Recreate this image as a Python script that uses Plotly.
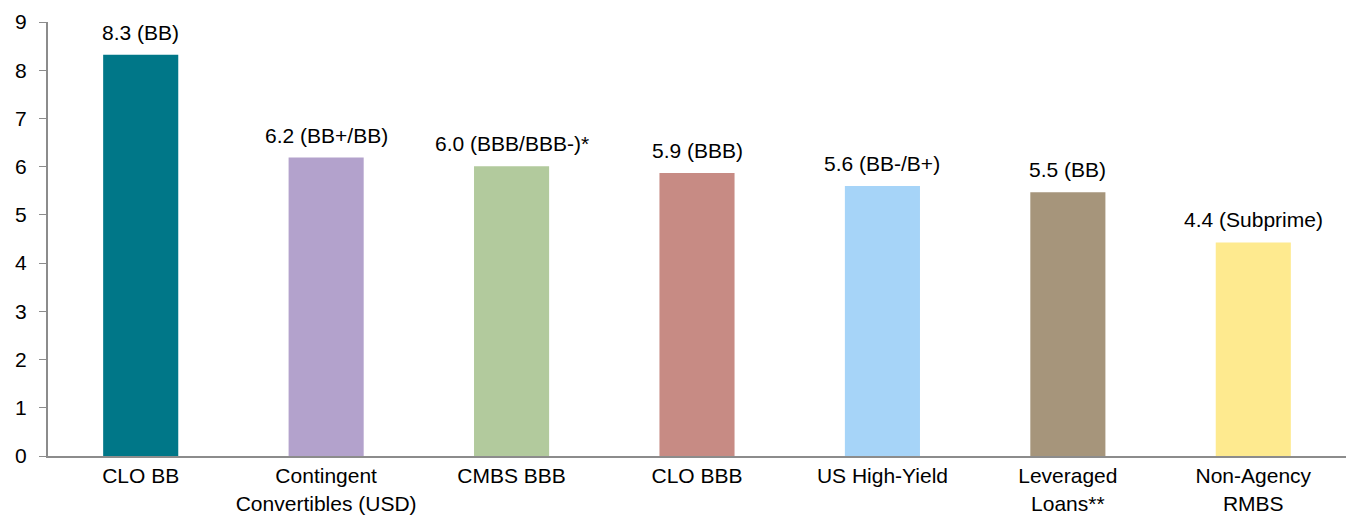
import plotly.graph_objects as go

categories = ["CLO BB", "Contingent<br>Convertibles (USD)", "CMBS BBB", "CLO BBB",
              "US High-Yield", "Leveraged<br>Loans**", "Non-Agency<br>RMBS"]
values = [8.32, 6.19, 6.01, 5.87, 5.60, 5.47, 4.43]
labels = ["8.3 (BB)", "6.2 (BB+/BB)", "6.0 (BBB/BBB-)*", "5.9 (BBB)",
          "5.6 (BB-/B+)", "5.5 (BB)", "4.4 (Subprime)"]
colors = ["#007788", "#B3A2CC", "#B2CA9D", "#C78B84", "#A6D4F8", "#A6957B", "#FEEA8F"]
y_ticks = list(range(0, 10))

FONT = "Liberation Sans, Arial, sans-serif"
FS = 21

fig = go.Figure()
fig.add_trace(go.Bar(x=categories, y=values, marker=dict(color=colors, line=dict(width=0)),
                     hoverinfo="skip"))

for c, v, t in zip(categories, values, labels):
    fig.add_annotation(x=c, y=v, text=t, showarrow=False, yanchor="bottom",
                       yshift=9, font=dict(family=FONT, size=FS, color="#000000"))

fig.update_layout(
    width=1350, height=516,
    margin=dict(l=48, r=4, t=22, b=60),
    plot_bgcolor="white", paper_bgcolor="white",
    bargap=0.595,
    showlegend=False,
    font=dict(family=FONT, size=FS, color="#000000"),
    xaxis=dict(showline=True, linecolor="#8C8C8C", linewidth=2, showgrid=False,
               ticks="", tickfont=dict(size=FS), fixedrange=True, ticklabelstandoff=0,
               automargin=False),
    yaxis=dict(range=[0, 9], tickvals=y_ticks, showline=True, linecolor="#8C8C8C",
               linewidth=2, ticks="outside", ticklen=7, tickcolor="#8C8C8C", tickwidth=1,
               showgrid=False, zeroline=False, tickfont=dict(size=FS), ticklabelstandoff=8,
               automargin=False),
)

fig.write_html("out.html")
